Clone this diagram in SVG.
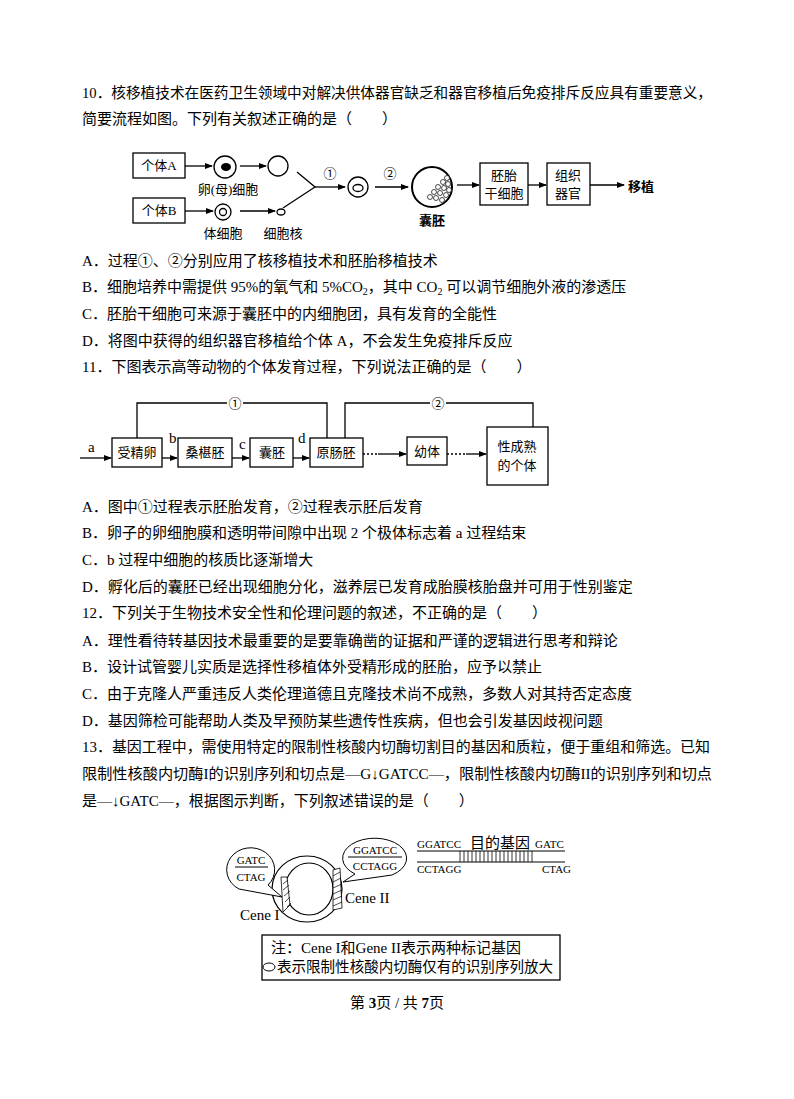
<svg xmlns="http://www.w3.org/2000/svg" width="794" height="1099" viewBox="0 0 794 1099">
<style>
text{font-family:"Liberation Serif","Noto Sans CJK SC",serif;font-size:15px;fill:#000}
.s{font-size:13px}
.c{text-anchor:middle}
.b{fill:none;stroke:#000;stroke-width:1.3}
.l{stroke:#000;stroke-width:1.3;fill:none}
.q{font-size:11px}
</style>
<defs><marker id="ar" markerWidth="8" markerHeight="8" refX="7" refY="4" orient="auto" markerUnits="userSpaceOnUse"><path d="M0,1 L8,4 L0,7 Z" fill="#000"/></marker></defs>
<rect width="794" height="1099" fill="#fff"/>
<g id="text">
<text x="82" y="98" textLength="630" lengthAdjust="spacingAndGlyphs">10．核移植技术在医药卫生领域中对解决供体器官缺乏和器官移植后免疫排斥反应具有重要意义，</text>
<text x="82" y="124">简要流程如图。下列有关叙述正确的是（　　）</text>
<text x="82" y="266">A．过程①、②分别应用了核移植技术和胚胎移植技术</text>
<text x="82" y="292">B．细胞培养中需提供 95%的氧气和 5%CO<tspan font-size="10" dy="3">2</tspan><tspan dy="-3">，其中 CO</tspan><tspan font-size="10" dy="3">2</tspan><tspan dy="-3"> 可以调节细胞外液的渗透压</tspan></text>
<text x="82" y="319">C．胚胎干细胞可来源于囊胚中的内细胞团，具有发育的全能性</text>
<text x="82" y="346">D．将图中获得的组织器官移植给个体 A，不会发生免疫排斥反应</text>
<text x="82" y="372">11．下图表示高等动物的个体发育过程，下列说法正确的是（　　）</text>
<text x="82" y="512">A．图中①过程表示胚胎发育，②过程表示胚后发育</text>
<text x="82" y="538">B．卵子的卵细胞膜和透明带间隙中出现 2 个极体标志着 a 过程结束</text>
<text x="82" y="565">C．b 过程中细胞的核质比逐渐增大</text>
<text x="82" y="592">D．孵化后的囊胚已经出现细胞分化，滋养层已发育成胎膜核胎盘并可用于性别鉴定</text>
<text x="82" y="618">12．下列关于生物技术安全性和伦理问题的叙述，不正确的是（　　）</text>
<text x="82" y="646">A．理性看待转基因技术最重要的是要靠确凿的证据和严谨的逻辑进行思考和辩论</text>
<text x="82" y="672">B．设计试管婴儿实质是选择性移植体外受精形成的胚胎，应予以禁止</text>
<text x="82" y="699">C．由于克隆人严重违反人类伦理道德且克隆技术尚不成熟，多数人对其持否定态度</text>
<text x="82" y="726">D．基因筛检可能帮助人类及早预防某些遗传性疾病，但也会引发基因歧视问题</text>
<text x="82" y="752" textLength="628" lengthAdjust="spacingAndGlyphs">13．基因工程中，需使用特定的限制性核酸内切酶切割目的基因和质粒，便于重组和筛选。已知</text>
<text x="82" y="779" textLength="630" lengthAdjust="spacingAndGlyphs">限制性核酸内切酶I的识别序列和切点是—G↓GATCC—，限制性核酸内切酶II的识别序列和切点</text>
<text x="82" y="806">是—↓GATC—，根据图示判断，下列叙述错误的是（　　）</text>
<text x="397" y="1008" class="c" font-size="12">第 <tspan font-weight="bold">3</tspan>页 / 共 <tspan font-weight="bold">7</tspan>页</text>
</g>
<g id="diagram1">
<rect class="b" x="133" y="153" width="52" height="25"/><text x="159" y="170" class="c s">个体A</text>
<rect class="b" x="133" y="198" width="52" height="25"/><text x="159" y="215" class="c s">个体B</text>
<circle class="b" cx="225" cy="167" r="11"/><ellipse cx="226" cy="167" rx="5" ry="4"/>
<text x="228" y="194" class="c s">卵(母)细胞</text>
<circle class="b" cx="278" cy="166" r="10"/>
<circle class="b" cx="223" cy="212" r="8"/><circle class="b" cx="223" cy="212" r="3.5"/>
<text x="223" y="238" class="c s">体细胞</text>
<ellipse class="b" cx="281" cy="212" rx="4" ry="3"/>
<text x="283" y="238" class="c s">细胞核</text>
<path class="l" d="M297,172 L315,187 L283,208"/>
<text x="330" y="178" class="c s">①</text>
<circle class="b" cx="358" cy="187" r="10"/><ellipse class="b" cx="358" cy="188" rx="5" ry="3.5"/>
<text x="390" y="178" class="c s">②</text>
<circle cx="432" cy="187" r="20" fill="none" stroke="#000" stroke-width="2"/>
<g fill="#fff" stroke="#000" stroke-width="0.7">
<circle cx="447" cy="178" r="2.5"/><circle cx="443" cy="182" r="2.5"/><circle cx="448" cy="184" r="2.5"/><circle cx="438" cy="187" r="2.5"/><circle cx="444" cy="188" r="2.5"/><circle cx="449" cy="190" r="2.5"/><circle cx="434" cy="192" r="2.5"/><circle cx="440" cy="193" r="2.5"/><circle cx="446" cy="195" r="2.5"/><circle cx="430" cy="197" r="2.5"/><circle cx="436" cy="198" r="2.5"/><circle cx="442" cy="200" r="2.5"/>
</g>
<text x="432" y="225" class="c s" font-weight="bold">囊胚</text>
<rect class="b" x="480" y="163" width="48" height="42"/><text x="504" y="180" class="c s">胚胎</text><text x="504" y="198" class="c s">干细胞</text>
<rect class="b" x="547" y="163" width="43" height="42"/><text x="568" y="180" class="c s">组织</text><text x="568" y="198" class="c s">器官</text>
<text x="628" y="191" class="s" font-weight="bold">移植</text>
</g>
<g id="diagram2">
<rect class="b" x="112" y="438" width="50" height="29"/><text x="137" y="457" class="c s">受精卵</text>
<rect class="b" x="178" y="438" width="54" height="29"/><text x="205" y="457" class="c s">桑椹胚</text>
<rect class="b" x="250" y="438" width="43" height="29"/><text x="272" y="457" class="c s">囊胚</text>
<rect class="b" x="310" y="438" width="53" height="29"/><text x="336" y="457" class="c s">原肠胚</text>
<rect class="b" x="407" y="437" width="40" height="28"/><text x="427" y="456" class="c s">幼体</text>
<rect class="b" x="487" y="427" width="61" height="58"/><text x="517" y="451" class="c s">性成熟</text><text x="517" y="470" class="c s">的个体</text>
<text x="88" y="452" font-size="16">a</text><text x="169" y="443" font-size="15">b</text><text x="239" y="449" font-size="15">c</text><text x="298" y="443" font-size="15">d</text>
<text x="235" y="408" class="c s">①</text><text x="438" y="408" class="c s">②</text>
</g>
<g id="diagram3">
<ellipse cx="307" cy="889" rx="35" ry="33" fill="none" stroke="#000" stroke-width="1.2"/>
<ellipse cx="309" cy="889" rx="24" ry="26" fill="none" stroke="#000" stroke-width="1.2"/>
<path d="M281,877 L287,877 L290,905 L283,912 Z" fill="#fff" stroke="#000" stroke-width="0.8"/>
<path d="M283,884 L288,880 M283,890 L289,885 M284,896 L290,891 M285,902 L290,897 M287,907 L291,903" stroke="#000" stroke-width="0.7"/>
<path d="M333,870 L340,868 L342,908 L333,910 Z" fill="#fff" stroke="#000" stroke-width="0.8"/>
<path d="M333,876 L340,872 M333,882 L341,878 M333,888 L342,884 M333,894 L342,890 M333,900 L342,896 M333,906 L342,902" stroke="#000" stroke-width="0.7"/>
<path d="M239,889 A24,22 0 1 1 268,885 L282,897 Z" fill="#fff" stroke="#000" stroke-width="1"/>
<text x="251" y="864" class="c q">GATC</text><line x1="235" y1="867" x2="268" y2="867" stroke="#000"/><text x="251" y="881" class="c q">CTAG</text>
<path d="M355,874 A32,20 0 1 1 392,875 L343,882 Z" fill="#fff" stroke="#000" stroke-width="1"/>
<text x="375" y="854" class="c q">GGATCC</text><line x1="348" y1="857" x2="402" y2="857" stroke="#000"/><text x="375" y="870" class="c q">CCTAGG</text>
<text x="345" y="903" font-size="13">Cene II</text>
<text x="240" y="920" font-size="13">Cene I</text>
<text x="417" y="848" class="q">GGATCC</text><text x="470" y="848" font-size="12">目的基因</text><text x="535" y="848" class="q">GATC</text>
<line x1="417" y1="851" x2="565" y2="851" stroke="#000"/><line x1="417" y1="862" x2="565" y2="862" stroke="#000"/>
<path d="M460,851 V862 M464,851 V862 M468,851 V862 M472,851 V862 M476,851 V862 M480,851 V862 M484,851 V862 M488,851 V862 M492,851 V862 M496,851 V862 M500,851 V862 M504,851 V862 M508,851 V862 M512,851 V862 M516,851 V862 M520,851 V862 M524,851 V862 M528,851 V862 M532,851 V862" stroke="#000" stroke-width="0.8"/>
<text x="417" y="873" class="q">CCTAGG</text><text x="542" y="873" class="q">CTAG</text>
<rect class="b" x="262" y="935" width="298" height="45"/>
<text x="271" y="953" font-size="13">注：Cene I和Gene II表示两种标记基因</text>
<ellipse cx="269" cy="967" rx="6" ry="4" fill="none" stroke="#000"/>
<text x="277" y="972" font-size="13" textLength="276" lengthAdjust="spacingAndGlyphs">表示限制性核酸内切酶仅有的识别序列放大</text>
</g>
<g id="connectors" class="l" marker-end="url(#ar)">
<line x1="185" y1="166" x2="212" y2="166"/><line x1="240" y1="166" x2="266" y2="166"/>
<line x1="185" y1="211" x2="213" y2="211"/><line x1="240" y1="211" x2="275" y2="211"/>
<line x1="315" y1="187" x2="345" y2="187"/><line x1="375" y1="187" x2="408" y2="187"/>
<line x1="457" y1="185" x2="479" y2="185"/><line x1="528" y1="185" x2="546" y2="185"/><line x1="590" y1="185" x2="624" y2="185"/>
<line x1="80" y1="458" x2="111" y2="458"/><line x1="162" y1="458" x2="177" y2="458"/><line x1="232" y1="458" x2="249" y2="458"/><line x1="293" y1="458" x2="309" y2="458"/>
<path d="M363,454 H378" stroke-dasharray="2,2" marker-end="none"/><line x1="378" y1="454" x2="406" y2="454"/>
<path d="M447,454 H466" stroke-dasharray="2,2" marker-end="none"/><line x1="466" y1="454" x2="486" y2="454"/>
<path d="M137,438 V403 H227 M243,403 H327 V438" marker-end="none"/>
<path d="M345,438 V403 H430 M446,403 H533 V427" marker-end="none"/>
</g>
</svg>
